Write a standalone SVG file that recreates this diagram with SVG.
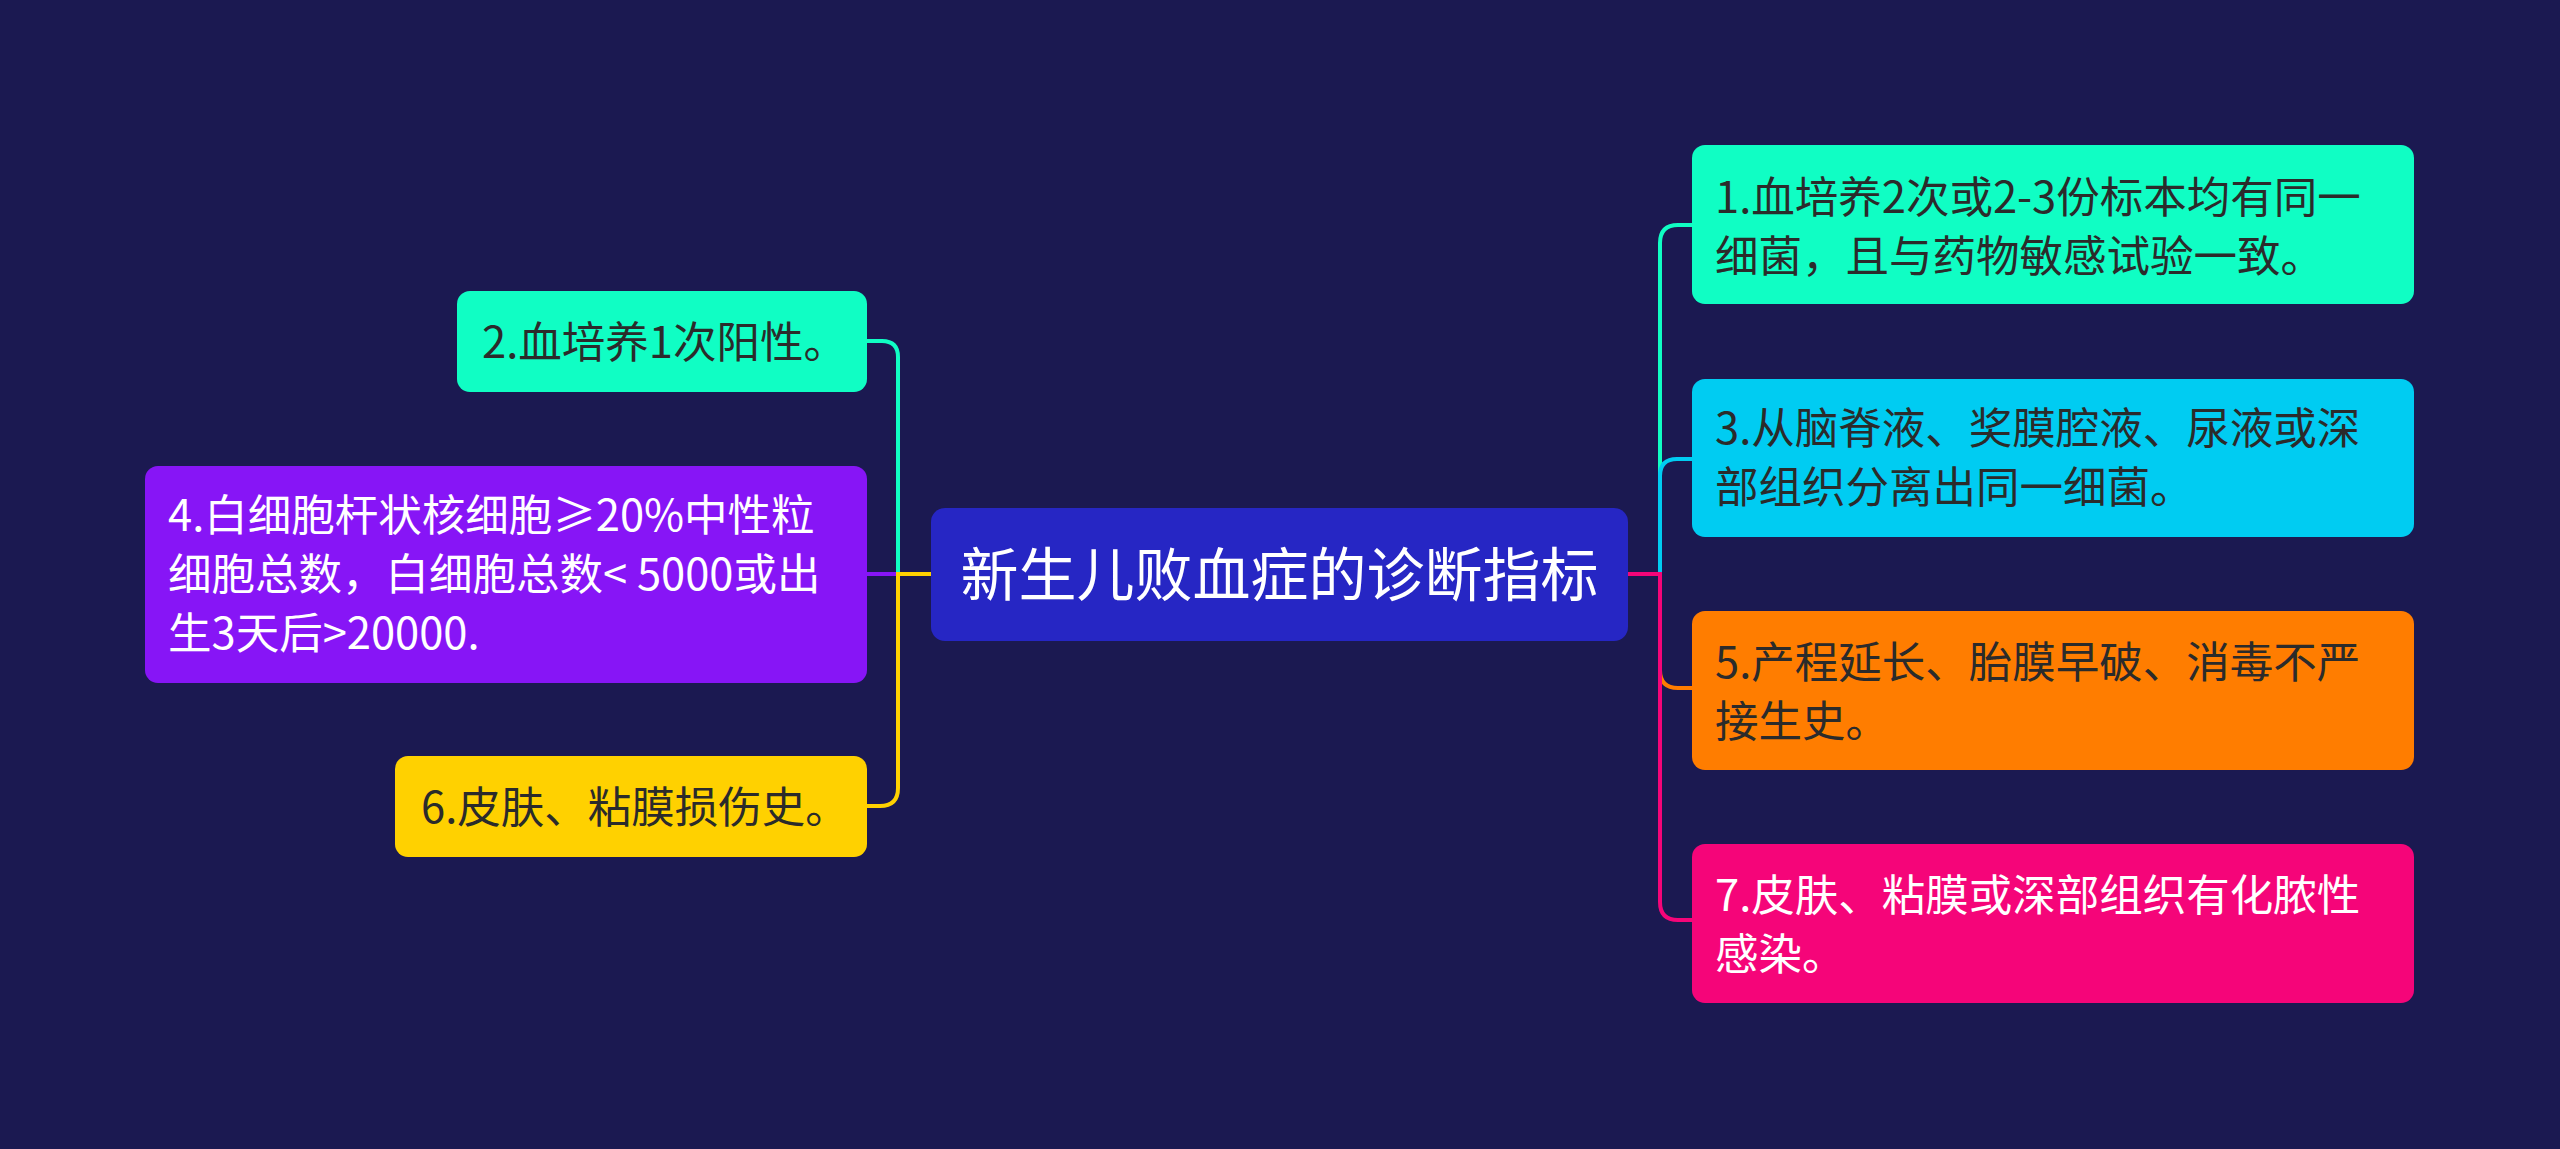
<svg xmlns="http://www.w3.org/2000/svg" width="2560" height="1149" viewBox="0 0 2560 1149">
<style>
.t{font-family:"Noto Sans CJK SC","Noto Sans",sans-serif;font-size:43.5px;}
.dk{fill:#2b2b2b;}
.wh{fill:#ffffff;}
.c{fill:none;stroke-width:4;}
</style>
<rect x="0" y="0" width="2560" height="1149" fill="#1b1951"/>
<g id="connectors">
<path class="c" stroke="#10fec4" d="M931,574 H898 V357 Q898,341 882,341 H867"/>
<path class="c" stroke="#8715f6" d="M931,574 H867"/>
<path class="c" stroke="#ffd100" d="M931,574 H898 V788 Q898,806 880,806 H867"/>
<path class="c" stroke="#10fec4" d="M1628,574 H1660 V243 Q1660,225 1678,225 H1692"/>
<path class="c" stroke="#00ccf2" d="M1628,574 H1660 V476 Q1660,459 1677,459 H1692"/>
<path class="c" stroke="#ff7d00" d="M1628,574 H1660 V670 Q1660,688 1678,688 H1692"/>
<path class="c" stroke="#f50579" d="M1628,574 H1660 V902 Q1660,920 1678,920 H1692"/>
</g>
<g id="center">
<rect x="931" y="508" width="697" height="133" rx="14" fill="#2626c4"/>
<text x="1279.5" y="596" text-anchor="middle" font-family="Noto Sans CJK SC, Noto Sans, sans-serif" font-size="58" fill="#ffffff">新生儿败血症的诊断指标</text>
</g>
<g id="n1">
<rect x="1692" y="145" width="722" height="159" rx="13" fill="#10fec4"/>
<text class="t dk" x="1715" y="213">1.血培养2次或2-3份标本均有同一</text>
<text class="t dk" x="1715" y="272">细菌，且与药物敏感试验一致。</text>
</g>
<g id="n3">
<rect x="1692" y="379" width="722" height="158" rx="13" fill="#00ccf2"/>
<text class="t dk" x="1715" y="444">3.从脑脊液、奖膜腔液、尿液或深</text>
<text class="t dk" x="1715" y="503">部组织分离出同一细菌。</text>
</g>
<g id="n5">
<rect x="1692" y="611" width="722" height="159" rx="13" fill="#ff7d00"/>
<text class="t dk" x="1715" y="678">5.产程延长、胎膜早破、消毒不严</text>
<text class="t dk" x="1715" y="737">接生史。</text>
</g>
<g id="n7">
<rect x="1692" y="844" width="722" height="159" rx="13" fill="#f50579"/>
<text class="t wh" x="1715" y="911">7.皮肤、粘膜或深部组织有化脓性</text>
<text class="t wh" x="1715" y="970">感染。</text>
</g>
<g id="n2">
<rect x="457" y="291" width="410" height="101" rx="13" fill="#10fec4"/>
<text class="t dk" x="482" y="358">2.血培养1次阳性。</text>
</g>
<g id="n4">
<rect x="145" y="466" width="722" height="217" rx="13" fill="#8715f6"/>
<text class="t wh" x="168" y="531">4.白细胞杆状核细胞≥20%中性粒</text>
<text class="t wh" x="168" y="590">细胞总数，白细胞总数&lt; 5000或出</text>
<text class="t wh" x="168" y="649">生3天后&gt;20000.</text>
</g>
<g id="n6">
<rect x="395" y="756" width="472" height="101" rx="13" fill="#ffd100"/>
<text class="t dk" x="421" y="823">6.皮肤、粘膜损伤史。</text>
</g>
</svg>
